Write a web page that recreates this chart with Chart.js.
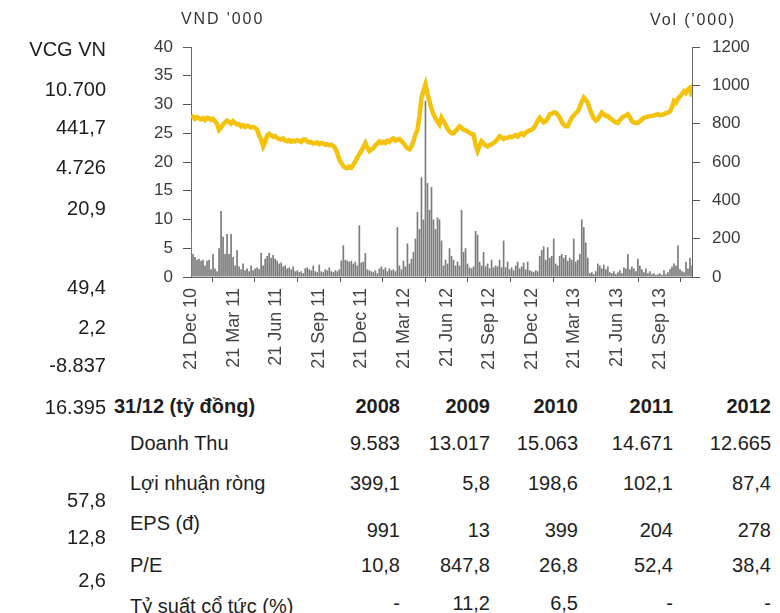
<!DOCTYPE html>
<html><head><meta charset="utf-8">
<script src="https://cdn.jsdelivr.net/npm/chart.js@4/dist/chart.umd.min.js"></script>
<style>
html,body{margin:0;padding:0;background:#fff;}
#wrap{position:relative;width:780px;height:613px;overflow:hidden;font-family:"Liberation Sans",Arial,sans-serif;color:#1e1e1e;}
#chartBox{position:absolute;left:0;top:0;width:780px;height:380px;}
.t{position:absolute;font-size:20px;line-height:20px;white-space:nowrap;}
.b{font-weight:bold;}
.ax{position:absolute;font-size:16px;line-height:16px;letter-spacing:1.9px;color:#333;white-space:nowrap;}
</style></head>
<body>
<div id="wrap">
  <div id="chartBox"><canvas id="c" width="780" height="380"></canvas></div>
  <div class="ax" style="left:181px;top:11px;">VND '000</div>
  <div class="ax" style="left:650px;top:12px;">Vol ('000)</div>
</div>
<script>
// ---- data ----
const tickLabels = ['21 Dec 10','21 Mar 11','21 Jun 11','21 Sep 11','21 Dec 11','21 Mar 12','21 Jun 12','21 Sep 12','21 Dec 12','21 Mar 13','21 Jun 13','21 Sep 13'];
const samplesPerQuarter = 21.26;

const priceVND = [
27.7,27.9,27.5,27.8,27.6,27.4,27.6,27.3,27.7,27.6,
27.3,27.5,27.1,26.6,25.6,26.0,26.5,26.9,27.2,27.0,
26.7,27.1,26.8,26.5,26.6,26.2,26.4,26.1,26.3,26.2,
26.0,26.1,25.9,25.6,24.6,23.9,22.7,23.4,24.6,24.9,
24.7,24.4,24.5,24.2,24.0,23.9,24.1,23.7,23.6,23.8,
23.5,23.7,23.6,23.8,23.7,23.5,23.9,23.9,23.6,23.4,
23.5,23.2,23.3,23.4,23.1,23.3,23.2,23.0,23.1,22.9,
23.0,22.8,22.4,21.6,20.4,19.8,19.3,19.0,18.9,19.2,
19.0,19.5,20.1,20.8,21.4,21.9,22.6,23.3,22.5,21.9,
22.2,22.4,22.9,23.2,23.6,23.3,23.5,23.3,23.7,23.5,
23.9,24.1,23.7,23.9,24.0,23.6,23.3,22.8,22.4,22.2,
22.7,23.6,24.8,25.6,28.0,31.2,32.4,33.5,31.8,30.6,
29.2,28.3,27.6,27.0,26.5,27.7,27.1,26.5,25.8,25.3,
25.0,25.0,25.4,25.8,26.2,26.0,25.6,25.5,25.3,25.1,
24.9,24.8,23.0,21.9,22.8,23.6,23.2,22.9,22.7,22.9,
23.1,23.3,23.6,24.0,24.5,24.3,24.0,24.2,24.2,24.4,
24.3,24.5,24.7,24.4,24.8,25.0,24.7,25.1,25.3,25.5,
25.6,25.9,26.5,27.1,27.7,27.3,26.9,27.1,27.6,28.3,
28.4,28.6,28.6,28.2,27.7,27.0,26.5,26.2,26.2,27.0,
27.7,28.1,28.5,28.8,29.6,30.5,31.2,30.8,30.3,29.2,
28.3,27.6,27.2,27.4,28.0,28.6,28.3,28.0,28.0,27.6,
27.4,27.1,26.9,26.8,27.3,27.7,27.9,28.1,28.3,27.8,
27.1,26.9,26.8,26.8,27.1,27.4,27.7,27.8,27.9,28.0,
28.0,28.1,28.2,28.3,28.1,28.2,28.3,28.5,28.6,28.8,
29.5,30.6,30.3,31.0,31.4,31.8,32.3,32.0,32.6,32.9,
31.4];

const volume000 = [
230,120,105,90,95,85,90,60,85,90,
40,120,45,30,150,345,210,120,225,120,
225,105,60,140,55,40,70,35,45,30,
60,35,45,50,40,125,60,95,110,125,
100,115,95,85,70,75,55,60,45,50,
40,55,30,35,25,30,20,45,50,40,
35,60,30,25,65,30,25,40,35,50,
30,25,35,30,40,85,165,90,85,80,
85,70,80,60,270,75,80,125,40,35,
30,25,35,20,45,55,40,50,30,45,
35,40,30,260,60,40,85,55,175,70,
95,130,200,340,250,520,300,920,490,350,
470,300,250,310,300,190,60,90,70,150,
110,90,60,80,60,350,130,150,70,50,
45,55,240,220,80,60,130,55,70,45,
90,50,60,55,90,50,190,50,80,40,
50,35,60,80,45,55,75,40,80,35,
30,25,35,30,110,140,160,90,155,100,
110,200,70,60,110,120,100,115,85,100,
90,200,80,90,120,300,260,180,100,20,
25,15,30,70,60,45,65,40,55,25,
20,30,15,25,35,20,50,45,120,40,
55,45,30,95,60,40,25,45,20,30,
15,20,10,15,20,10,35,15,25,40,
55,70,60,165,40,30,25,80,45,100,
60];

const sideValues = ['VCG VN','10.700','441,7','4.726','20,9','49,4','2,2','-8.837','16.395','57,8','12,8','2,6'];
const tableTitle = '31/12 (tỷ đồng)';
const years = ['2008','2009','2010','2011','2012'];
const rowLabels = ['Doanh Thu','Lợi nhuận ròng','EPS (đ)','P/E','Tỷ suất cổ tức (%)'];
const revenue = ['9.583','13.017','15.063','14.671','12.665'];
const netProfit = ['399,1','5,8','198,6','102,1','87,4'];
const eps = ['991','13','399','204','278'];
const pe = ['10,8','847,8','26,8','52,4','38,4'];
const dividendYield = ['-','11,2','6,5','-','-'];

// ---- layout (pixel positions) ----
const sideY = [49,89,127,167,208,287,327,365,407,500,537,580];
const colRight = [400,490,578,673,771];
const rowLabelY = [443,483,523,565,606];
const rowValueY = [443,483,530,565,603];

const wrap = document.getElementById('wrap');
function addText(txt, opts){
  const d = document.createElement('div');
  d.className = 't' + (opts.bold ? ' b' : '');
  d.textContent = txt;
  d.style.top = (opts.cy - 10) + 'px';
  if (opts.right !== undefined) { d.style.right = (780 - opts.right) + 'px'; d.style.textAlign = 'right'; }
  else d.style.left = opts.left + 'px';
  wrap.appendChild(d);
}
sideValues.forEach((v,i)=>addText(v,{cy:sideY[i], right:106}));
addText(tableTitle,{cy:406,left:114,bold:true});
years.forEach((y,i)=>addText(y,{cy:406,right:colRight[i],bold:true}));
const rows = [revenue, netProfit, eps, pe, dividendYield];
rowLabels.forEach((l,r)=>{
  addText(l,{cy:rowLabelY[r],left:130});
  rows[r].forEach((v,i)=>addText(v,{cy:rowValueY[r],right:colRight[i]}));
});

// ---- chart ----
Chart.defaults.font.family = '"Liberation Sans", Arial, sans-serif';
Chart.defaults.color = '#3a3a3a';
const ctx = document.getElementById('c').getContext('2d');
new Chart(ctx, {
  type: 'bar',
  data: {
    datasets: [
      { type:'bar', label:'Volume', yAxisID:'yVol', order:0,
        data: volume000.map((v,i)=>({x:i, y:v})),
        backgroundColor:'#7d7d7d', barPercentage:0.85, categoryPercentage:1.0 },
      { type:'line', label:'Price', yAxisID:'yPrice', order:1,
        data: priceVND.map((v,i)=>({x:i, y:v})),
        borderColor:'#F4C20A', borderWidth:4.5, pointRadius:0, tension:0, fill:false }
    ]
  },
  options: {
    responsive:false, animation:false,
    layout:{ padding:{ top:47, left:0, right:0, bottom:0 } },
    plugins:{ legend:{display:false}, tooltip:{enabled:false} },
    scales:{
      x:{
        type:'linear', min:0, max:priceVND.length-1, offset:false,
        grid:{ drawOnChartArea:false, drawTicks:true, tickLength:5, color:'#555' },
        border:{ color:'#666', width:1 },
        afterBuildTicks: s => { s.ticks = tickLabels.map((l,k)=>({ value:k*samplesPerQuarter })); },
        ticks:{ autoSkip:false, minRotation:90, maxRotation:90, padding:6,
          font:{ size:18 }, color:'#444',
          callback:(v,i)=>tickLabels[i] },
        afterFit: s => { s.height = 103; }
      },
      yPrice:{
        position:'left', min:0, max:40,
        ticks:{ stepSize:5, padding:10, font:{ size:17 }, color:'#3a3a3a', callback: v => String(v) },
        grid:{ drawOnChartArea:false, tickLength:8, color:'#555' },
        border:{ color:'#666', width:1 },
        afterFit: s => { s.width = 191; }
      },
      yVol:{
        position:'right', min:0, max:1200,
        ticks:{ stepSize:200, padding:12, font:{ size:17 }, color:'#3a3a3a', callback: v => String(v) },
        grid:{ drawOnChartArea:false, tickLength:8, color:'#555' },
        border:{ color:'#666', width:1 },
        afterFit: s => { s.width = 88; }
      }
    }
  }
});
</script>
</body></html>
